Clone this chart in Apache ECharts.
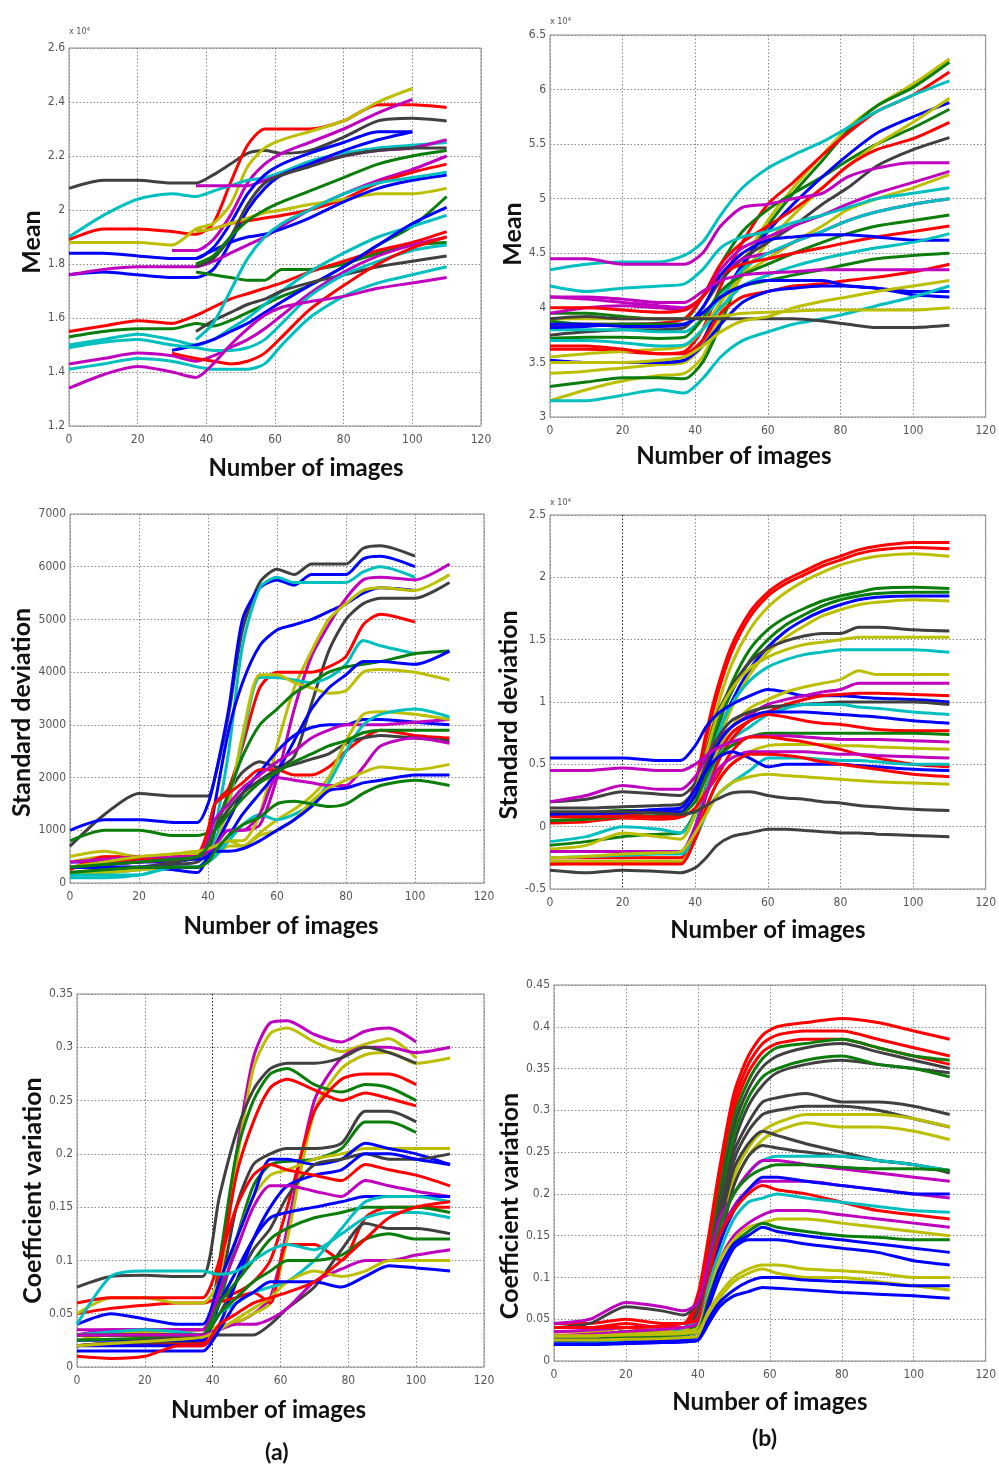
<!DOCTYPE html>
<html><head><meta charset="utf-8">
<script src="https://cdn.jsdelivr.net/npm/echarts@6/dist/echarts.min.js"></script>
<style>html,body{margin:0;padding:0;background:#fff}#c{width:999px;height:1469px}</style>
</head><body><div id="c"></div>
<script>
// MATLAB-style line colours, referenced by letter
const COLORS = {r:'#ff0000', g:'#0a7d0a', b:'#0000ff', c:'#00bfbf', m:'#bf00bf', y:'#bcbf00', k:'#404040'};
const xTicks = [0, 20, 40, 60, 80, 100, 120];

// ---------- (a) Mean, x 10^4 ----------
const meanA_x = [0,10,20,30,37,42,47,52,57,62,70,80,90,100,110];
const meanA_colors = 'krymcmbbmrybkggrgcbkmcrcmc';
const meanA_values = [
 [2.08,2.11,2.11,2.10,2.10,2.13,2.17,2.21,2.22,2.21,2.22,2.27,2.33,2.34,2.33],
 [1.89,1.93,1.93,1.92,1.91,1.95,2.10,2.24,2.30,2.30,2.30,2.33,2.39,2.39,2.38],
 [1.88,1.88,1.88,1.87,1.93,1.95,2.02,2.16,2.23,2.26,2.29,2.33,2.40,2.45,null],
 [null,null,null,1.85,1.85,1.89,1.98,2.10,2.17,2.21,2.25,2.30,2.36,2.41,null],
 [1.90,1.98,2.04,2.06,2.05,2.07,2.09,2.11,2.12,2.14,2.18,2.21,2.23,2.24,2.25],
 [null,null,null,null,2.09,2.09,2.09,2.09,2.11,2.13,2.17,2.20,2.22,2.23,2.26],
 [1.84,1.84,1.83,1.82,1.82,1.86,1.95,2.06,2.13,2.17,2.21,2.25,2.29,2.29,null],
 [1.76,1.77,1.76,1.75,1.75,1.78,1.88,2.00,2.08,2.13,2.17,2.22,2.26,2.29,null],
 [1.76,1.78,1.79,1.79,1.79,1.81,1.84,1.87,1.90,1.94,2.00,2.06,2.11,2.15,2.20],
 [null,null,null,null,1.92,1.93,1.95,1.96,1.97,1.98,2.00,2.04,2.10,2.14,2.17],
 [null,null,null,null,1.92,1.93,1.95,1.97,1.99,2.00,2.02,2.04,2.06,2.06,2.08],
 [null,null,null,null,1.82,1.85,1.88,1.90,1.91,1.93,1.97,2.03,2.08,2.11,2.13],
 [null,null,null,null,1.79,1.82,1.90,2.02,2.10,2.13,2.16,2.20,2.22,2.23,2.23],
 [null,null,null,null,1.77,1.76,1.75,1.74,1.74,1.78,1.78,1.80,1.84,1.87,1.88],
 [null,null,null,null,1.80,1.83,1.90,1.96,2.00,2.03,2.07,2.12,2.17,2.20,2.22],
 [1.55,1.57,1.59,1.58,1.61,1.64,1.67,1.69,1.71,1.73,1.77,1.81,1.85,1.88,1.92],
 [1.53,1.55,1.56,1.56,1.58,1.57,1.59,1.62,1.65,1.68,1.72,1.79,1.87,1.94,2.05],
 [1.50,1.52,1.54,1.52,1.50,1.52,1.56,1.60,1.65,1.70,1.77,1.84,1.90,1.94,1.98],
 [null,null,null,1.48,1.50,1.52,1.55,1.58,1.62,1.66,1.72,1.79,1.87,1.95,2.01],
 [null,null,null,null,1.55,1.59,1.62,1.65,1.67,1.70,1.73,1.76,1.79,1.81,1.83],
 [1.43,1.45,1.47,1.46,1.44,1.46,1.49,1.52,1.56,1.61,1.69,1.77,1.83,1.87,1.90],
 [1.49,1.51,1.52,1.50,1.49,1.48,1.48,1.49,1.52,1.58,1.68,1.76,1.81,1.85,1.87],
 [null,null,null,1.47,1.45,1.44,1.43,1.44,1.47,1.53,1.63,1.72,1.80,1.86,1.90],
 [1.41,1.43,1.45,1.44,1.42,1.41,1.41,1.41,1.43,1.50,1.60,1.68,1.73,1.76,1.79],
 [1.34,1.39,1.42,1.40,1.38,1.43,1.50,1.56,1.61,1.64,1.66,1.68,1.71,1.73,1.75],
 [null,null,null,null,1.52,1.58,1.70,1.82,1.90,1.95,2.00,2.06,2.10,2.12,2.14]
];

// ---------- (b) Mean, x 10^4 ----------
const meanB_x = [0,10,20,30,37,42,47,53,60,67,75,82,90,100,110];
const meanB_colors = 'ygrcgbyrkmmycmcgrbcgrmbbcyky';
const meanB_values = [
 [3.15,3.25,3.33,3.38,3.40,3.55,3.90,4.40,4.80,5.10,5.40,5.65,5.85,6.05,6.28],
 [3.28,3.32,3.36,3.36,3.35,3.50,3.85,4.35,4.75,5.05,5.35,5.62,5.85,6.02,6.25],
 [3.62,3.62,3.60,3.58,3.60,3.80,4.20,4.60,4.95,5.15,5.40,5.60,5.80,5.95,6.16],
 [4.35,4.40,4.42,4.42,4.48,4.60,4.85,5.10,5.28,5.40,5.52,5.65,5.80,5.95,6.08],
 [3.95,3.95,3.92,3.90,3.90,4.10,4.40,4.70,4.90,5.05,5.20,5.35,5.50,5.65,5.82],
 [3.52,3.50,3.50,3.50,3.52,3.70,4.05,4.40,4.70,4.95,5.20,5.40,5.60,5.75,5.88],
 [3.40,3.42,3.45,3.48,3.50,3.65,3.95,4.30,4.60,4.85,5.10,5.30,5.50,5.70,5.92],
 [3.85,3.85,3.85,3.86,3.90,4.10,4.40,4.60,4.75,4.90,5.10,5.30,5.45,5.55,5.70],
 [3.75,3.78,3.80,3.80,3.82,4.00,4.25,4.45,4.60,4.75,4.95,5.10,5.30,5.45,5.56],
 [4.45,4.45,4.40,4.40,4.40,4.50,4.75,4.92,4.95,5.00,5.05,5.20,5.28,5.33,5.33],
 [4.10,4.08,4.05,4.02,4.00,4.10,4.35,4.55,4.65,4.75,4.85,4.95,5.05,5.15,5.25],
 [3.55,3.58,3.60,3.62,3.65,3.80,4.05,4.30,4.45,4.60,4.75,4.90,5.00,5.10,5.22],
 [4.20,4.15,4.18,4.20,4.22,4.35,4.55,4.65,4.70,4.78,4.85,4.92,5.00,5.05,5.10],
 [3.95,4.00,4.02,4.00,3.98,4.10,4.30,4.45,4.50,4.60,4.70,4.80,4.88,4.95,5.00],
 [3.80,3.80,3.80,3.78,3.78,3.90,4.10,4.35,4.50,4.60,4.70,4.80,4.88,4.95,5.00],
 [3.72,3.73,3.73,3.72,3.73,3.90,4.15,4.30,4.40,4.50,4.60,4.68,4.75,4.80,4.85],
 [4.00,4.00,3.98,3.96,3.98,4.10,4.30,4.40,4.45,4.50,4.55,4.60,4.65,4.70,4.75],
 [3.82,3.83,3.85,3.85,3.85,4.00,4.30,4.50,4.62,4.65,4.67,4.67,4.65,4.62,4.62],
 [3.70,3.70,3.68,3.65,3.66,3.80,4.00,4.20,4.30,4.38,4.45,4.50,4.55,4.60,4.68],
 [3.88,3.85,3.85,3.85,3.85,3.95,4.10,4.20,4.25,4.30,4.35,4.40,4.45,4.48,4.50],
 [3.65,3.65,3.62,3.58,3.58,3.70,3.95,4.10,4.15,4.20,4.22,4.25,4.28,4.33,4.40],
 [4.10,4.10,4.08,4.05,4.05,4.15,4.25,4.30,4.32,4.33,4.35,4.35,4.35,4.35,4.35],
 [3.85,3.85,3.83,3.83,3.85,3.95,4.10,4.20,4.25,4.25,4.25,4.20,4.18,4.12,4.10],
 [3.50,3.50,3.50,3.50,3.52,3.65,3.85,4.05,4.15,4.18,4.20,4.20,4.18,4.15,4.15],
 [3.15,3.15,3.20,3.25,3.22,3.35,3.55,3.70,3.78,3.85,3.90,3.95,4.02,4.10,4.20],
 [3.90,3.90,3.90,3.90,3.90,3.91,3.92,3.95,3.96,3.97,3.98,3.98,3.98,3.98,4.00],
 [3.90,3.92,3.90,3.90,3.90,3.90,3.90,3.90,3.90,3.90,3.88,3.85,3.82,3.82,3.84],
 [3.50,3.50,3.50,3.52,3.55,3.65,3.78,3.88,3.92,4.00,4.06,4.10,4.15,4.20,4.25]
];

// ---------- (a) Standard deviation ----------
const stdA_x = [0,10,20,30,37,40,42,46,50,55,60,65,70,75,80,85,90,100,110];
const stdA_colors = 'kbcbmykrcygbbrmkycmybgg';
const stdA_values = [
 [700,1300,1700,1650,1650,1650,2000,3200,4800,5700,5950,5850,6050,6050,6050,6350,6400,6200,null],
 [1000,1200,1200,1150,1150,1500,2000,3300,5000,5600,5750,5650,5850,5850,5850,6150,6200,6000,null],
 [200,200,250,300,300,450,1000,2500,4500,5600,5800,5700,5700,5700,5700,5900,6000,5800,null],
 [400,400,400,400,500,800,1500,2900,3800,4500,4800,4900,5000,5150,5300,5500,5600,5550,null],
 [300,350,400,450,550,600,800,1000,1000,1100,2000,3300,4300,4900,5400,5750,5800,5750,6050],
 [400,500,500,550,600,600,650,800,800,1300,2600,3700,4400,5000,5300,5550,5600,5550,5850],
 [300,300,300,350,400,600,1000,1700,2100,2300,2200,2400,3400,4400,5000,5300,5400,5400,5700],
 [250,500,500,500,550,1000,1500,1800,2600,3700,4000,4000,4000,4100,4300,4900,5100,4950,null],
 [100,100,150,300,300,500,800,1500,2700,3900,3900,3850,3800,3900,4150,4600,4500,4350,null],
 [500,600,500,500,550,600,700,1500,2800,3950,3950,3800,3700,3600,3650,4000,4050,4000,3850],
 [800,1000,1000,900,900,950,1000,1700,2400,3000,3300,3600,3800,4000,4100,4150,4200,4350,4400],
 [300,350,400,450,450,500,600,900,1300,1700,2100,2700,3300,3700,3950,4200,4200,4150,4400],
 [300,300,300,250,200,500,700,1200,1700,2100,2500,2800,2950,3000,3000,3100,3100,3050,3000],
 [300,400,450,500,500,1000,1500,1700,1900,2150,2150,2050,2050,2200,2500,2750,2900,2800,2750],
 [400,450,500,500,500,800,1200,1500,1800,2050,2300,2500,2750,2900,3000,3000,3000,3050,3100],
 [200,250,300,400,500,700,1000,1400,1700,1950,2150,2250,2350,2450,2650,2750,2800,2750,2700],
 [200,200,250,300,300,400,500,700,700,950,1200,1400,1650,2000,2700,3200,3250,3200,3100],
 [150,150,150,300,300,400,500,800,1100,1300,1200,1300,1500,1900,2500,3000,3200,3300,3150],
 [300,350,400,450,500,600,700,1000,1000,1300,2000,1950,1900,1850,1850,2200,2600,2750,2650],
 [300,400,500,550,600,650,700,800,700,900,1000,1200,1550,1800,1950,2100,2200,2150,2250],
 [300,300,300,300,300,450,600,600,650,800,1000,1200,1450,1750,1800,1900,1950,2050,2050],
 [200,250,300,300,300,400,600,900,1100,1250,1500,1550,1500,1450,1500,1700,1850,1950,1850],
 [300,350,400,450,500,700,1000,1300,1600,1900,2100,2300,2450,2600,2700,2850,2900,2900,2900]
];

// ---------- (b) Standard deviation, x 10^4 ----------
const stdB_x = [0,10,20,30,36,40,43,46,50,55,60,65,70,75,80,85,90,100,110];
const stdB_colors = 'rrygg' + 'bykyc' + 'bymrk' + 'cbrgm' + 'yrmcb' + 'rykk';
const stdB_values = [
 [0.05,0.06,0.10,0.08,0.10,0.35,0.75,1.10,1.45,1.72,1.88,1.98,2.05,2.12,2.17,2.22,2.25,2.28,2.28],
 [0.03,0.04,0.07,0.06,0.08,0.30,0.70,1.05,1.40,1.68,1.85,1.95,2.02,2.09,2.14,2.19,2.22,2.24,2.23],
 [0.05,0.06,0.08,0.08,0.10,0.25,0.60,0.95,1.30,1.58,1.76,1.88,1.97,2.04,2.10,2.14,2.17,2.19,2.17],
 [0.10,0.11,0.13,0.13,0.15,0.25,0.55,0.85,1.15,1.42,1.58,1.68,1.75,1.81,1.85,1.88,1.91,1.92,1.91],
 [-0.15,-0.12,-0.08,-0.06,-0.05,0.12,0.45,0.78,1.08,1.33,1.50,1.62,1.70,1.77,1.82,1.85,1.87,1.88,1.88],
 [-0.20,-0.20,-0.20,-0.20,-0.20,0.00,0.35,0.70,1.00,1.26,1.44,1.57,1.66,1.73,1.78,1.82,1.84,1.85,1.85],
 [-0.25,-0.25,-0.25,-0.25,-0.25,-0.05,0.30,0.65,0.95,1.22,1.40,1.52,1.61,1.69,1.74,1.78,1.80,1.82,1.81],
 [0.20,0.22,0.28,0.26,0.25,0.35,0.60,0.90,1.12,1.32,1.43,1.49,1.53,1.55,1.55,1.60,1.60,1.58,1.57],
 [0.10,0.11,0.12,0.13,0.15,0.30,0.58,0.88,1.10,1.27,1.36,1.42,1.46,1.48,1.50,1.52,1.52,1.52,1.52],
 [-0.12,-0.08,0.00,-0.02,-0.05,0.10,0.42,0.72,0.98,1.17,1.28,1.34,1.38,1.40,1.42,1.42,1.42,1.42,1.40],
 [0.55,0.55,0.55,0.53,0.53,0.65,0.80,0.90,0.98,1.05,1.10,1.08,1.05,1.05,1.05,1.04,1.03,1.02,1.00],
 [-0.18,-0.15,-0.05,-0.08,-0.10,0.10,0.40,0.60,0.80,0.95,1.02,1.08,1.12,1.15,1.18,1.25,1.22,1.22,1.22],
 [0.20,0.25,0.33,0.30,0.30,0.40,0.55,0.70,0.80,0.90,0.98,1.02,1.05,1.08,1.10,1.15,1.15,1.15,1.15],
 [-0.30,-0.29,-0.28,-0.28,-0.28,-0.05,0.30,0.55,0.75,0.85,0.92,0.98,1.02,1.05,1.06,1.07,1.07,1.06,1.05],
 [0.15,0.15,0.16,0.17,0.18,0.30,0.50,0.70,0.85,0.92,0.96,0.97,0.98,0.99,1.00,1.00,1.00,1.00,0.98],
 [-0.20,-0.20,-0.20,-0.20,-0.20,0.00,0.30,0.55,0.70,0.80,0.90,0.95,0.98,0.98,0.98,0.96,0.95,0.92,0.90],
 [0.10,0.10,0.11,0.12,0.12,0.25,0.45,0.65,0.80,0.88,0.92,0.92,0.92,0.91,0.90,0.89,0.88,0.85,0.83],
 [-0.25,-0.25,-0.25,-0.25,-0.25,-0.05,0.25,0.50,0.70,0.85,0.90,0.88,0.85,0.83,0.82,0.80,0.78,0.77,0.77],
 [0.05,0.06,0.08,0.09,0.10,0.20,0.40,0.55,0.65,0.72,0.75,0.75,0.75,0.75,0.75,0.75,0.75,0.75,0.74],
 [0.45,0.45,0.47,0.45,0.45,0.50,0.57,0.63,0.68,0.72,0.73,0.73,0.72,0.71,0.70,0.70,0.70,0.69,0.68],
 [-0.28,-0.28,-0.28,-0.28,-0.28,-0.10,0.15,0.35,0.50,0.60,0.65,0.66,0.66,0.66,0.65,0.65,0.64,0.63,0.62],
 [0.08,0.08,0.08,0.08,0.08,0.15,0.28,0.40,0.60,0.72,0.72,0.70,0.68,0.65,0.62,0.58,0.55,0.50,0.48],
 [-0.20,-0.20,-0.20,-0.20,-0.20,0.00,0.25,0.45,0.55,0.60,0.60,0.60,0.60,0.59,0.58,0.58,0.57,0.56,0.55],
 [-0.25,-0.24,-0.23,-0.22,-0.22,-0.10,0.10,0.25,0.35,0.45,0.55,0.55,0.55,0.54,0.53,0.53,0.52,0.50,0.50],
 [0.10,0.11,0.12,0.14,0.15,0.30,0.45,0.55,0.60,0.55,0.48,0.50,0.50,0.50,0.50,0.49,0.48,0.46,0.45],
 [-0.30,-0.30,-0.30,-0.30,-0.30,-0.10,0.15,0.35,0.50,0.58,0.58,0.57,0.55,0.52,0.50,0.48,0.46,0.42,0.40],
 [-0.25,-0.24,-0.22,-0.21,-0.20,-0.05,0.10,0.25,0.35,0.40,0.42,0.41,0.40,0.39,0.38,0.37,0.36,0.35,0.34],
 [0.12,0.12,0.12,0.11,0.10,0.12,0.17,0.22,0.27,0.28,0.25,0.23,0.22,0.20,0.19,0.17,0.16,0.14,0.13],
 [-0.35,-0.37,-0.35,-0.36,-0.37,-0.33,-0.25,-0.15,-0.08,-0.05,-0.02,-0.02,-0.03,-0.04,-0.05,-0.05,-0.06,-0.07,-0.08]
];

// ---------- (a) Coefficient variation ----------
const cvA_x = [0,10,20,30,37,42,47,52,57,62,70,78,85,92,100,110];
const cvA_colors = 'mymykgrrkgybkbrmrbgcckgmybr';
const cvA_values = [
 [0.030,0.035,0.035,0.035,0.035,0.09,0.20,0.29,0.323,0.325,0.312,0.305,0.315,0.318,0.305,null],
 [0.025,0.030,0.030,0.030,0.030,0.08,0.19,0.28,0.313,0.318,0.305,0.296,0.303,0.308,0.290,null],
 [0.030,0.032,0.033,0.035,0.035,0.038,0.042,0.050,0.065,0.13,0.25,0.29,0.300,0.300,0.295,0.300],
 [0.030,0.032,0.033,0.034,0.035,0.038,0.042,0.050,0.060,0.12,0.24,0.28,0.293,0.295,0.285,0.290],
 [0.075,0.085,0.086,0.085,0.085,0.16,0.22,0.26,0.280,0.285,0.285,0.29,0.300,0.295,0.285,null],
 [0.020,0.022,0.022,0.022,0.022,0.10,0.20,0.25,0.275,0.280,0.265,0.258,0.265,0.262,0.250,null],
 [0.020,0.022,0.022,0.022,0.022,0.09,0.18,0.23,0.262,0.270,0.260,0.250,0.257,0.252,0.245,null],
 [0.050,0.055,0.058,0.060,0.060,0.065,0.070,0.080,0.100,0.15,0.24,0.27,0.275,0.275,0.265,null],
 [0.020,0.022,0.023,0.024,0.025,0.07,0.15,0.19,0.200,0.205,0.205,0.21,0.240,0.240,0.230,null],
 [0.030,0.030,0.030,0.030,0.030,0.06,0.12,0.17,0.190,0.193,0.195,0.205,0.230,0.230,0.220,null],
 [0.050,0.065,0.065,0.060,0.060,0.08,0.12,0.16,0.180,0.185,0.195,0.200,0.205,0.205,0.205,0.205],
 [0.040,0.050,0.045,0.040,0.040,0.08,0.12,0.16,0.195,0.195,0.190,0.195,0.210,0.205,0.200,0.190],
 [0.030,0.030,0.030,0.030,0.030,0.05,0.08,0.11,0.130,0.160,0.190,0.195,0.200,0.195,0.195,0.200],
 [0.020,0.020,0.020,0.020,0.020,0.04,0.08,0.12,0.150,0.170,0.180,0.185,0.200,0.200,0.195,0.190],
 [0.060,0.065,0.065,0.065,0.065,0.10,0.15,0.18,0.190,0.185,0.180,0.175,0.190,0.185,0.180,0.170],
 [0.035,0.035,0.035,0.035,0.035,0.07,0.11,0.15,0.170,0.170,0.165,0.160,0.175,0.170,0.165,0.160],
 [0.030,0.030,0.030,0.030,0.030,0.06,0.065,0.07,0.060,0.115,0.115,0.100,0.140,0.150,0.150,0.150],
 [0.025,0.025,0.025,0.025,0.025,0.06,0.09,0.12,0.140,0.145,0.150,0.155,0.160,0.160,0.160,0.160],
 [0.025,0.026,0.027,0.028,0.030,0.06,0.08,0.10,0.120,0.130,0.140,0.145,0.150,0.150,0.150,0.145],
 [0.040,0.085,0.090,0.090,0.090,0.087,0.09,0.10,0.110,0.115,0.110,0.125,0.140,0.145,0.145,0.140],
 [0.030,0.033,0.035,0.033,0.030,0.05,0.06,0.07,0.075,0.080,0.100,0.130,0.155,0.160,0.160,0.155],
 [0.020,0.022,0.025,0.028,0.030,0.03,0.03,0.03,0.040,0.055,0.075,0.110,0.135,0.130,0.130,0.125],
 [0.030,0.030,0.030,0.030,0.030,0.05,0.065,0.08,0.090,0.100,0.100,0.105,0.120,0.125,0.120,0.120],
 [0.030,0.030,0.030,0.030,0.030,0.035,0.04,0.04,0.045,0.055,0.080,0.092,0.100,0.100,0.105,0.110],
 [0.020,0.022,0.024,0.026,0.028,0.035,0.045,0.055,0.065,0.080,0.090,0.085,0.090,0.100,0.100,0.100],
 [0.015,0.015,0.015,0.015,0.015,0.035,0.06,0.07,0.080,0.080,0.080,0.075,0.085,0.095,0.093,0.090],
 [0.010,0.008,0.010,0.020,0.020,0.04,0.05,0.06,0.065,0.070,0.080,0.100,0.120,0.140,0.150,0.155]
];

// ---------- (b) Coefficient variation ----------
const cvB_x = [0,10,20,30,36,40,43,46,50,54,58,62,70,80,90,100,110];
const cvB_colors = 'rrrgkkgkkyykkcmgmbrcmygbbyybb';
const cvB_values = [
 [0.045,0.045,0.050,0.045,0.045,0.080,0.15,0.23,0.32,0.365,0.39,0.40,0.405,0.41,0.405,0.395,0.385],
 [0.040,0.040,0.045,0.040,0.040,0.075,0.14,0.22,0.31,0.355,0.38,0.39,0.395,0.395,0.385,0.375,0.365],
 [0.035,0.035,0.040,0.035,0.035,0.070,0.13,0.21,0.30,0.345,0.37,0.38,0.385,0.385,0.375,0.365,0.355],
 [0.030,0.030,0.035,0.030,0.030,0.060,0.12,0.20,0.29,0.335,0.362,0.375,0.38,0.385,0.375,0.365,0.36],
 [0.030,0.030,0.035,0.030,0.030,0.060,0.11,0.19,0.28,0.325,0.352,0.365,0.375,0.38,0.37,0.36,0.35],
 [0.025,0.025,0.030,0.028,0.028,0.050,0.10,0.18,0.26,0.305,0.33,0.345,0.355,0.36,0.355,0.35,0.345],
 [0.030,0.030,0.032,0.030,0.030,0.055,0.10,0.18,0.27,0.315,0.34,0.35,0.36,0.365,0.355,0.35,0.34],
 [0.040,0.045,0.065,0.060,0.055,0.070,0.11,0.18,0.25,0.285,0.31,0.315,0.32,0.31,0.31,0.305,0.295],
 [0.030,0.030,0.035,0.033,0.032,0.060,0.10,0.17,0.24,0.275,0.295,0.30,0.305,0.305,0.30,0.29,0.28],
 [0.035,0.035,0.040,0.038,0.037,0.050,0.09,0.15,0.22,0.255,0.275,0.285,0.295,0.295,0.295,0.29,0.28],
 [0.030,0.030,0.035,0.033,0.032,0.050,0.08,0.14,0.21,0.245,0.265,0.275,0.285,0.28,0.28,0.275,0.265],
 [0.030,0.030,0.035,0.033,0.032,0.050,0.09,0.16,0.23,0.26,0.275,0.27,0.26,0.25,0.24,0.235,0.225],
 [0.025,0.025,0.030,0.028,0.028,0.045,0.08,0.14,0.21,0.245,0.258,0.255,0.25,0.245,0.24,0.235,0.228],
 [0.020,0.022,0.025,0.030,0.040,0.050,0.10,0.16,0.20,0.225,0.24,0.245,0.245,0.245,0.24,0.235,0.228],
 [0.045,0.050,0.070,0.065,0.060,0.070,0.12,0.17,0.20,0.225,0.24,0.24,0.235,0.23,0.225,0.22,0.215],
 [0.030,0.030,0.035,0.033,0.032,0.045,0.10,0.16,0.20,0.22,0.23,0.235,0.235,0.232,0.23,0.23,0.228],
 [0.035,0.037,0.040,0.042,0.045,0.050,0.10,0.15,0.185,0.205,0.215,0.215,0.215,0.21,0.205,0.20,0.195],
 [0.020,0.022,0.025,0.028,0.030,0.040,0.09,0.14,0.18,0.205,0.22,0.22,0.215,0.21,0.205,0.20,0.20],
 [0.040,0.040,0.040,0.042,0.045,0.050,0.10,0.15,0.18,0.20,0.21,0.205,0.20,0.19,0.18,0.175,0.17],
 [0.020,0.022,0.025,0.028,0.030,0.040,0.09,0.13,0.17,0.19,0.195,0.20,0.195,0.19,0.185,0.18,0.178],
 [0.030,0.032,0.035,0.038,0.040,0.045,0.08,0.12,0.15,0.165,0.175,0.18,0.18,0.175,0.17,0.165,0.16],
 [0.030,0.030,0.032,0.034,0.035,0.040,0.08,0.12,0.145,0.16,0.165,0.17,0.17,0.165,0.16,0.155,0.15],
 [0.025,0.026,0.028,0.030,0.032,0.035,0.075,0.11,0.14,0.155,0.165,0.16,0.155,0.15,0.148,0.145,0.145],
 [0.025,0.025,0.026,0.027,0.028,0.030,0.07,0.11,0.14,0.15,0.16,0.155,0.15,0.145,0.14,0.135,0.13],
 [0.020,0.020,0.022,0.024,0.025,0.030,0.065,0.10,0.135,0.145,0.145,0.145,0.14,0.135,0.13,0.12,0.115],
 [0.030,0.030,0.031,0.032,0.033,0.035,0.06,0.08,0.10,0.11,0.115,0.115,0.11,0.108,0.105,0.10,0.10],
 [0.025,0.025,0.026,0.027,0.028,0.030,0.055,0.075,0.095,0.105,0.11,0.105,0.10,0.10,0.095,0.09,0.085],
 [0.020,0.020,0.021,0.022,0.023,0.025,0.05,0.07,0.085,0.095,0.10,0.10,0.097,0.095,0.093,0.09,0.09],
 [0.020,0.020,0.021,0.022,0.023,0.025,0.045,0.065,0.078,0.083,0.088,0.087,0.085,0.082,0.08,0.078,0.075]
];

const panels = [
 {grid:{left:69,top:48,width:412,height:378}, x:meanA_x, colors:meanA_colors, values:meanA_values,
  ymin:1.2, ymax:2.6, yint:0.2, yname:'Mean', ygap:22, ypad:[0,10,0,0], xgap:30, xpad:[0,0,0,62], darkX:-1},
 {grid:{left:550,top:35,width:440,height:382}, x:meanB_x, colors:meanB_colors, values:meanB_values,
  ymin:3, ymax:6.5, yint:0.5, yname:'Mean', ygap:23, ypad:[0,16,0,0], xgap:27, xpad:[0,68,0,0], darkX:-1},
 {grid:{left:70,top:514,width:414,height:369}, x:stdA_x, colors:stdA_colors, values:stdA_values,
  ymin:0, ymax:7000, yint:1000, yname:'Standard deviation', ygap:33, ypad:[0,28,0,0], xgap:31, xpad:[0,0,0,8], darkX:-1},
 {grid:{left:550,top:515,width:438,height:374}, x:stdB_x, colors:stdB_colors, values:stdB_values,
  ymin:-0.5, ymax:2.5, yint:0.5, yname:'Standard deviation', ygap:28, ypad:[0,26,0,0], xgap:29, xpad:[0,0,0,0], darkX:1},
 {grid:{left:77,top:994,width:407,height:373}, x:cvA_x, colors:cvA_colors, values:cvA_values,
  ymin:0, ymax:0.35, yint:0.05, yname:'Coefficient variation', ygap:29, ypad:[0,20,0,0], xgap:31, xpad:[0,24,0,0], darkX:2},
 {grid:{left:554,top:985,width:433,height:376}, x:cvB_x, colors:cvB_colors, values:cvB_values,
  ymin:0, ymax:0.45, yint:0.05, yname:'Coefficient variation', ygap:24, ypad:[0,66,0,0], xgap:29, xpad:[0,0,0,0], darkX:-1}
];

const tickFont = {fontFamily:'"Liberation Sans Narrow","DejaVu Sans Condensed",sans-serif', fontSize:12, color:'#555'};
const xTitleFont = {fontFamily:'Lato,"Open Sans",sans-serif', fontWeight:'bold', fontSize:24, color:'#111'};
const yTitleFont = {fontFamily:'Lato,"Open Sans",sans-serif', fontWeight:'bold', fontSize:25, color:'#111'};
const fmt = v => String(Math.round(v * 10000) / 10000);

const grid = [], xAxis = [], yAxis = [], series = [];
panels.forEach((p, i) => {
  grid.push(Object.assign({show:true, borderColor:'#8c8c8c', borderWidth:1, backgroundColor:'#fff'}, p.grid));
  const xc = xTicks.map((t, k) => k === p.darkX ? '#1a1a1a' : '#888888');
  xAxis.push({type:'value', gridIndex:i, min:0, max:120, interval:20,
    name:'Number of images', nameLocation:'middle', nameGap:p.xgap,
    nameTextStyle:Object.assign({padding:p.xpad}, xTitleFont),
    axisLine:{show:false}, axisTick:{show:false},
    axisLabel:Object.assign({margin:8, formatter:fmt}, tickFont),
    splitLine:{show:true, lineStyle:{type:[1.5,2], color:xc, width:1}}});
  yAxis.push({type:'value', gridIndex:i, min:p.ymin, max:p.ymax, interval:p.yint,
    name:p.yname, nameLocation:'middle', nameRotate:90, nameGap:p.ygap,
    nameTextStyle:Object.assign({padding:p.ypad}, yTitleFont),
    axisLine:{show:false}, axisTick:{show:false},
    axisLabel:Object.assign({margin:4, formatter:fmt}, tickFont),
    splitLine:{show:true, lineStyle:{type:[1.5,2], color:'#888888', width:1}}});
  p.values.forEach((vals, j) => {
    const data = [];
    p.x.forEach((x, k) => { if (vals[k] !== null) data.push([x, vals[k]]); });
    series.push({type:'line', xAxisIndex:i, yAxisIndex:i, data, showSymbol:false, symbol:'none',
      smooth:0.25, clip:true,
      lineStyle:{color:COLORS[p.colors[j]], width:3}, emphasis:{disabled:true}});
  });
});

const small = {fontFamily:'"Liberation Sans Narrow","DejaVu Sans Condensed",sans-serif', fontSize:9, fill:'#555'};
const graphic = [
  {type:'text', left:69, top:27, style:Object.assign({text:'x 10⁴'}, small)},
  {type:'text', left:550, top:17, style:Object.assign({text:'x 10⁴'}, small)},
  {type:'text', left:550, top:498, style:Object.assign({text:'x 10⁴'}, small)},
  {type:'text', left:265, top:1441, style:{text:'(a)', fontFamily:'Lato,sans-serif', fontWeight:'bold', fontSize:23, fill:'#111'}},
  {type:'text', left:752, top:1427, style:{text:'(b)', fontFamily:'Lato,sans-serif', fontWeight:'bold', fontSize:23, fill:'#111'}}
];

const chart = echarts.init(document.getElementById('c'), null, {renderer:'canvas'});
chart.setOption({animation:false, backgroundColor:'#fff', grid, xAxis, yAxis, series, graphic});
</script></body></html>
